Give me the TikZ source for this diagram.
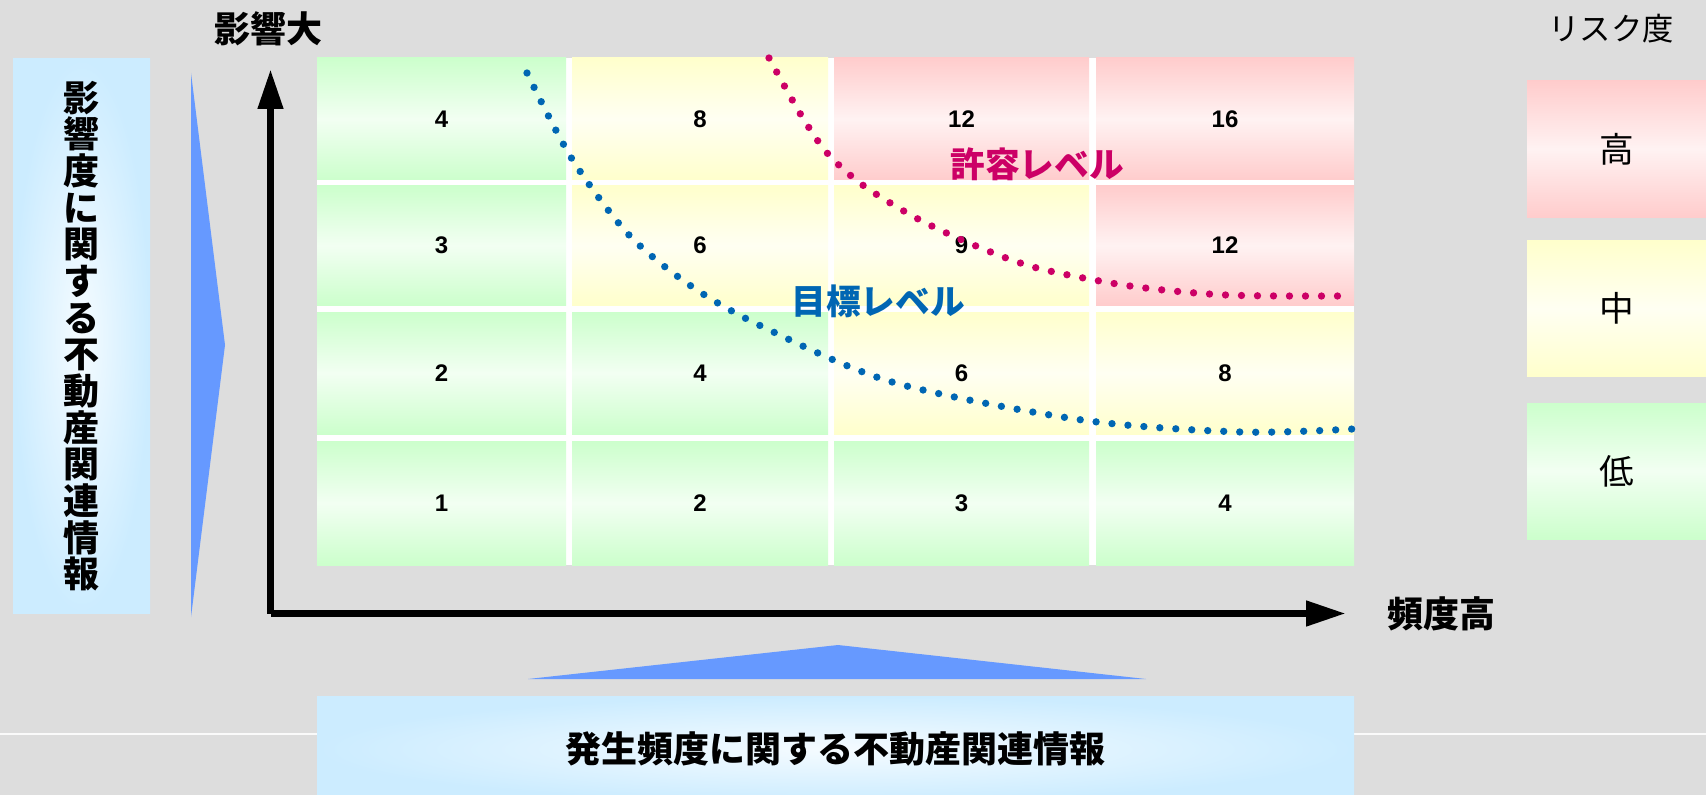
\documentclass[tikz,border=0pt]{standalone}
\usepackage{fontspec}
\setmainfont{Liberation Sans}
\newfontfamily\jpfont{Noto Sans CJK JP}
\usetikzlibrary{arrows.meta}
\definecolor{bggray}{HTML}{DDDDDD}
\definecolor{riskhigh}{HTML}{FFCCCC}
\definecolor{riskmid}{HTML}{FFFFCC}
\definecolor{risklow}{HTML}{CCFFCC}
\definecolor{infoblue}{HTML}{CCECFF}
\definecolor{wedgeblue}{HTML}{6699FF}
\definecolor{limitred}{HTML}{CC0066}
\definecolor{goalblue}{HTML}{0066B3}
\begin{document}
\begin{tikzpicture}[x=0.75pt,y=-0.75pt,
  cell/.style={inner sep=0pt,
    top color=#1,bottom color=#1,middle color=#1!25!white,
    font=\bfseries\fontsize{18}{18}\selectfont},
  legend/.style={cell=#1,minimum width=134.25pt,minimum height=102pt,
    font=\jpfont\fontsize{26}{26}\selectfont},
  infobox/.style={inner color=infoblue!20!white,outer color=infoblue,inner sep=0pt},
  jplabel/.style={font=\jpfont\bfseries\fontsize{27}{27}\selectfont},
  axis/.style={line width=5.6pt,-{Triangle[length=30pt,width=18pt]}},
  level/.style={line width=5.5pt,line cap=round,dash pattern=on 0pt off 12pt}]
\useasboundingbox (0,0) rectangle (1706,795);
\fill [bggray] (0,0) rectangle (1706,795);
\draw [white!85!bggray,line width=1.1pt] (0,734) -- (1706,734);
\node [infobox,minimum width=102.75pt,minimum height=415.5pt,align=center,
  font=\jpfont\bfseries\fontsize{27}{27.5}\selectfont] (impactinfo) at (81.5,336)
  {影\\響\\度\\に\\関\\す\\る\\不\\動\\産\\関\\連\\情\\報};
\node [infobox,jplabel,minimum width=777.75pt,minimum height=79.5pt] (freqinfo) at (835.5,749)
  {発生頻度に関する不動産関連情報};
\fill [wedgeblue] (191,73) -- (225,345) -- (191,617) -- cycle;
\fill [wedgeblue] (528,679) -- (838,645) -- (1146,679) -- cycle;
\fill [white] (317,58) rectangle (1354,565);
\foreach \row/\ypos/\rowh in {4/119/122,3/245.5/119,2/373/122,1/503/124}
  \foreach \col/\xpos/\colw in {1/441.5/249,2/700/256,3/961.5/255,4/1225/258} {
    \pgfmathtruncatemacro{\score}{\row*\col}
    \ifnum\score<5 \def\lvl{risklow}\else\ifnum\score<10 \def\lvl{riskmid}\else\def\lvl{riskhigh}\fi\fi
    \node [cell=\lvl,minimum width={0.75pt*\colw},minimum height={0.75pt*\rowh}]
      (c\col\row) at (\xpos,\ypos) {\score};
  }
\coordinate (O) at (270.5,613.5);
\coordinate (ytop) at (270.5,69);
\coordinate (xend) at (1346,613.5);
\draw [axis] (O) -- (ytop);
\draw [axis] (O) -- (xend);
\node [jplabel] (impactlbl) at (268,29) {影響大};
\node [jplabel] (freqlbl) at (1441,614) {頻度高};
\draw [level,goalblue] plot [smooth] coordinates {(527,73) (572,159) (629,235) (691,286)
  (761,326) (892,382) (1082,420) (1241,432) (1353,429)};
\draw [level,limitred] plot [smooth] coordinates {(769,58) (801,115) (828,154) (864,186)
  (918,219) (976,246) (1037,268) (1130,286) (1226,295) (1338,296)};
\node [jplabel,text=limitred,font=\jpfont\bfseries\fontsize{26}{26}\selectfont] (limitlbl) at (1037,164) {許容レベル};
\node [jplabel,text=goalblue,font=\jpfont\bfseries\fontsize{26}{26}\selectfont] (goallbl) at (878,301) {目標レベル};
\node [font=\jpfont\fontsize{23.5}{23.5}\selectfont] (risklbl) at (1611,29) {リスク度};
\node [legend=riskhigh] (high) at (1616.5,149) {高};
\node [legend=riskmid] (mid) at (1616.5,308.5) {中};
\node [legend=risklow] (low) at (1616.5,471) {低};
\end{tikzpicture}
\end{document}
